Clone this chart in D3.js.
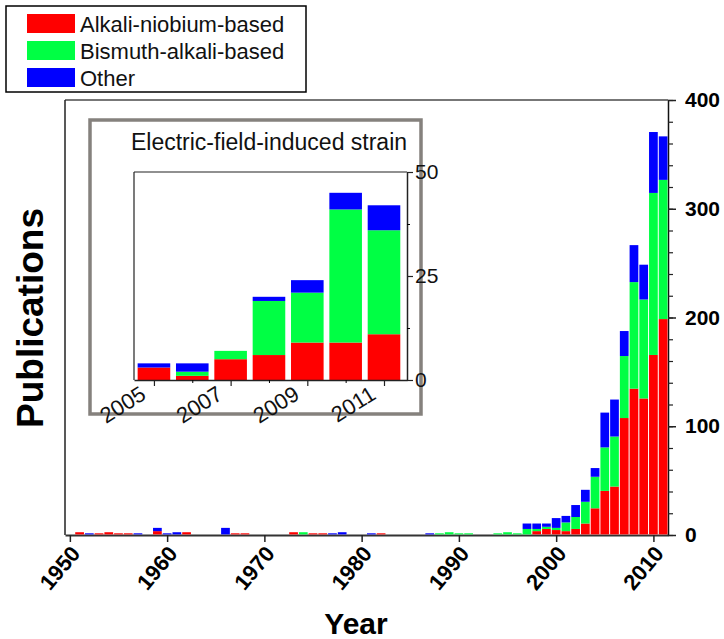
<!DOCTYPE html>
<html>
<head>
<meta charset="utf-8">
<script src="https://cdn.jsdelivr.net/npm/d3@7"></script>
<style>
  body { margin: 0; background: #fff; }
  svg { display: block; font-family: "Liberation Sans", Arial, Helvetica, sans-serif; }
</style>
</head>
<body>
<svg id="chart" width="724" height="639"></svg>
<script>
// Publications per year, split by material family
const years = [1950,1951,1952,1953,1954,1955,1956,1957,1958,1959,
               1960,1961,1962,1963,1964,1965,1966,1967,1968,1969,
               1970,1971,1972,1973,1974,1975,1976,1977,1978,1979,
               1980,1981,1982,1983,1984,1985,1986,1987,1988,1989,
               1990,1991,1992,1993,1994,1995,1996,1997,1998,1999,
               2000,2001,2002,2003,2004,2005,2006,2007,2008,2009,
               2010,2011];
const alkaliNiobium = [0,2,0,1,2,1,1,0,0,3,
                       0,0,2,0,0,0,0,1,1,0,
                       0,0,0,2,0,1,1,0,0,0,
                       0,0,1,0,0,0,0,0,0,0,
                       0,0,0,0,0,0,0,0,3,5,
                       4,3,5,10,24,40,44,107,134,125,
                       165,198];
const bismuthAlkali = [0,0,0,0,0,0,0,0,0,0,
                       0,0,0,0,0,0,0,0,0,0,
                       0,0,0,0,2,0,0,0,0,0,
                       0,0,0,0,0,0,0,0,1,2,
                       1,1,0,0,1,2,1,5,2,2,
                       2,8,11,20,29,40,46,57,98,91,
                       149,128];
const other = [0,0,1,0,0,0,0,1,0,3,
               1,2,0,0,0,0,6,0,0,0,
               0,0,0,0,0,0,0,1,2,0,
               0,1,0,0,0,0,0,1,0,0,
               0,0,0,0,0,0,0,5,5,3,
               9,6,11,11,8,32,34,23,34,32,
               56,40];

const seriesKeys = ["alkali", "bismuth", "other"];
const seriesNames = ["Alkali-niobium-based", "Bismuth-alkali-based", "Other"];
const seriesColors = ["#ff0000", "#00ff44", "#0000ff"];

const yearTicks = [1950, 1960, 1970, 1980, 1990, 2000, 2010];
const countTicks = [0, 100, 200, 300, 400];

// Inset: electric-field-induced strain papers
const insetTitle = "Electric-field-induced strain";
const insetYears = [2005, 2006, 2007, 2008, 2009, 2010, 2011];
const insetAlkaliNiobium = [3, 1, 5, 6, 9, 9, 11];
const insetBismuthAlkali = [0, 1, 2, 13, 12, 32, 25];
const insetOther = [1, 2, 0, 1, 3, 4, 6];
const insetYearTicks = [2005, 2007, 2009, 2011];
const insetCountTicks = [0, 25, 50];

const svg = d3.select("#chart");
svg.append("rect").attr("width", 724).attr("height", 639).attr("fill", "#fff");

const stack = d3.stack().keys(seriesKeys);
const color = d3.scaleOrdinal().domain(seriesKeys).range(seriesColors);

// ---------- main chart ----------
const x = d3.scaleLinear().domain([1949.5, 2011.5]).range([65, 668]);
const y = d3.scaleLinear().domain([0, 400]).range([535, 100]);

const mainRows = years.map((yr, i) => ({ year: yr, alkali: alkaliNiobium[i], bismuth: bismuthAlkali[i], other: other[i] }));
const mainStack = stack(mainRows);

// frame: top and left edges
svg.append("line").attr("x1", 65).attr("x2", 668).attr("y1", 100).attr("y2", 100)
  .attr("stroke", "#4a4a4a").attr("stroke-width", 1.5);
svg.append("line").attr("x1", 65).attr("x2", 65).attr("y1", 100).attr("y2", 535)
  .attr("stroke", "#222").attr("stroke-width", 1.5);

const xAxis = svg.append("g").attr("transform", "translate(0,535)")
  .call(d3.axisBottom(x).tickValues(yearTicks).tickSize(7).tickSizeOuter(0).tickFormat(d3.format("d")));
xAxis.select(".domain").attr("stroke", "#333").attr("stroke-width", 2);
xAxis.selectAll(".tick line").attr("stroke", "#222").attr("stroke-width", 1.5);
xAxis.selectAll(".tick text")
  .attr("font-size", 22).attr("font-weight", "bold").attr("fill", "#000")
  .attr("text-anchor", "end").attr("dy", 0)
  .attr("transform", "translate(11,19) rotate(-50)")
  .attr("y", 0).attr("x", 0);

const yMinor = svg.append("g").attr("transform", "translate(668,0)")
  .call(d3.axisRight(y).tickValues(d3.range(0, 401, 20)).tickSize(5).tickSizeOuter(0).tickFormat(""));
yMinor.select(".domain").attr("stroke", "#111").attr("stroke-width", 1.5);
yMinor.selectAll(".tick line").attr("stroke", "#222").attr("stroke-width", 1.2);
const yAxis = svg.append("g").attr("transform", "translate(668,0)")
  .call(d3.axisRight(y).tickValues(countTicks).tickSize(8).tickPadding(9).tickSizeOuter(0));
yAxis.select(".domain").remove();
yAxis.selectAll(".tick line").attr("stroke", "#222").attr("stroke-width", 1.5);
yAxis.selectAll(".tick text").attr("font-size", 21).attr("font-weight", "bold").attr("fill", "#000");

const barW = x(1951) - x(1950) - 1;
svg.append("g").selectAll("g").data(mainStack).join("g")
  .attr("fill", d => color(d.key))
  .selectAll("rect").data(d => d.filter(s => s[1] > s[0])).join("rect")
  .attr("x", d => x(d.data.year - 0.5) + 0.5)
  .attr("width", barW)
  .attr("y", d => y(d[1]) - 0.6)
  .attr("height", d => y(d[0]) - y(d[1]));

svg.append("text").attr("transform", "translate(30,318) rotate(-90)")
  .attr("text-anchor", "middle").attr("dominant-baseline", "central")
  .attr("font-size", 37).attr("font-weight", "bold").text("Publications");
svg.append("text").attr("x", 356).attr("y", 634)
  .attr("text-anchor", "middle")
  .attr("font-size", 30).attr("font-weight", "bold").text("Year");

// ---------- legend ----------
const legend = svg.append("g");
legend.append("rect").attr("x", 6).attr("y", 6).attr("width", 300).attr("height", 86)
  .attr("fill", "#fff").attr("stroke", "#000").attr("stroke-width", 1.5);
seriesNames.forEach((name, i) => {
  legend.append("rect").attr("x", 27).attr("y", 14 + i * 27).attr("width", 48).attr("height", 19)
    .attr("fill", seriesColors[i]);
  legend.append("text").attr("x", 80).attr("y", 31.5 + i * 27)
    .attr("font-size", 22).attr("fill", "#111").text(name);
});

// ---------- inset ----------
const inset = svg.append("g");
inset.append("rect").attr("x", 90).attr("y", 120).attr("width", 331).attr("height", 294)
  .attr("fill", "#fff").attr("stroke", "#85817d").attr("stroke-width", 3.5);
inset.append("text").attr("x", 269).attr("y", 150).attr("text-anchor", "middle")
  .attr("font-size", 23).attr("fill", "#111").text(insetTitle);

const xi = d3.scaleLinear().domain([2004.48, 2011.6]).range([134, 407]);
const yi = d3.scaleLinear().domain([0, 50]).range([380, 172]);

inset.append("line").attr("x1", 134).attr("x2", 134).attr("y1", 172).attr("y2", 380)
  .attr("stroke", "#222").attr("stroke-width", 1.2);
inset.append("line").attr("x1", 134).attr("x2", 407).attr("y1", 172).attr("y2", 172)
  .attr("stroke", "#222").attr("stroke-width", 1.2);

const insetRows = insetYears.map((yr, i) => ({ year: yr, alkali: insetAlkaliNiobium[i], bismuth: insetBismuthAlkali[i], other: insetOther[i] }));
const insetStack = stack(insetRows);
const ib = 0.85;
inset.append("g").selectAll("g").data(insetStack).join("g")
  .attr("fill", d => color(d.key))
  .selectAll("rect").data(d => d.filter(s => s[1] > s[0])).join("rect")
  .attr("x", d => xi(d.data.year - ib / 2))
  .attr("width", xi(ib) - xi(0))
  .attr("y", d => yi(d[1]))
  .attr("height", d => yi(d[0]) - yi(d[1]));

const xiMinor = inset.append("g").attr("transform", "translate(0,380)")
  .call(d3.axisBottom(xi).tickValues([2006, 2008, 2010]).tickSize(3).tickSizeOuter(0).tickFormat(""));
xiMinor.select(".domain").attr("stroke", "#222").attr("stroke-width", 1.5);
const xiAxis = inset.append("g").attr("transform", "translate(0,380)")
  .call(d3.axisBottom(xi).tickValues(insetYearTicks).tickSize(6).tickFormat(d3.format("d")));
xiAxis.select(".domain").remove();
xiAxis.selectAll(".tick line").attr("stroke", "#222").attr("stroke-width", 1.2);
xiAxis.selectAll(".tick text")
  .attr("font-size", 22).attr("fill", "#111")
  .attr("text-anchor", "end").attr("dy", 0).attr("y", 0).attr("x", 0)
  .attr("transform", "translate(-7,18) rotate(-32)");

const yiMinor = inset.append("g").attr("transform", "translate(407,0)")
  .call(d3.axisRight(yi).tickValues([12.5, 37.5]).tickSize(3).tickSizeOuter(0).tickFormat(""));
yiMinor.select(".domain").attr("stroke", "#222").attr("stroke-width", 1.5);
const yiAxis = inset.append("g").attr("transform", "translate(407,0)")
  .call(d3.axisRight(yi).tickValues(insetCountTicks).tickSize(6).tickPadding(2));
yiAxis.select(".domain").remove();
yiAxis.selectAll(".tick line").attr("stroke", "#222").attr("stroke-width", 1.2);
yiAxis.selectAll(".tick text").attr("font-size", 21).attr("fill", "#111");
</script>
</body>
</html>
